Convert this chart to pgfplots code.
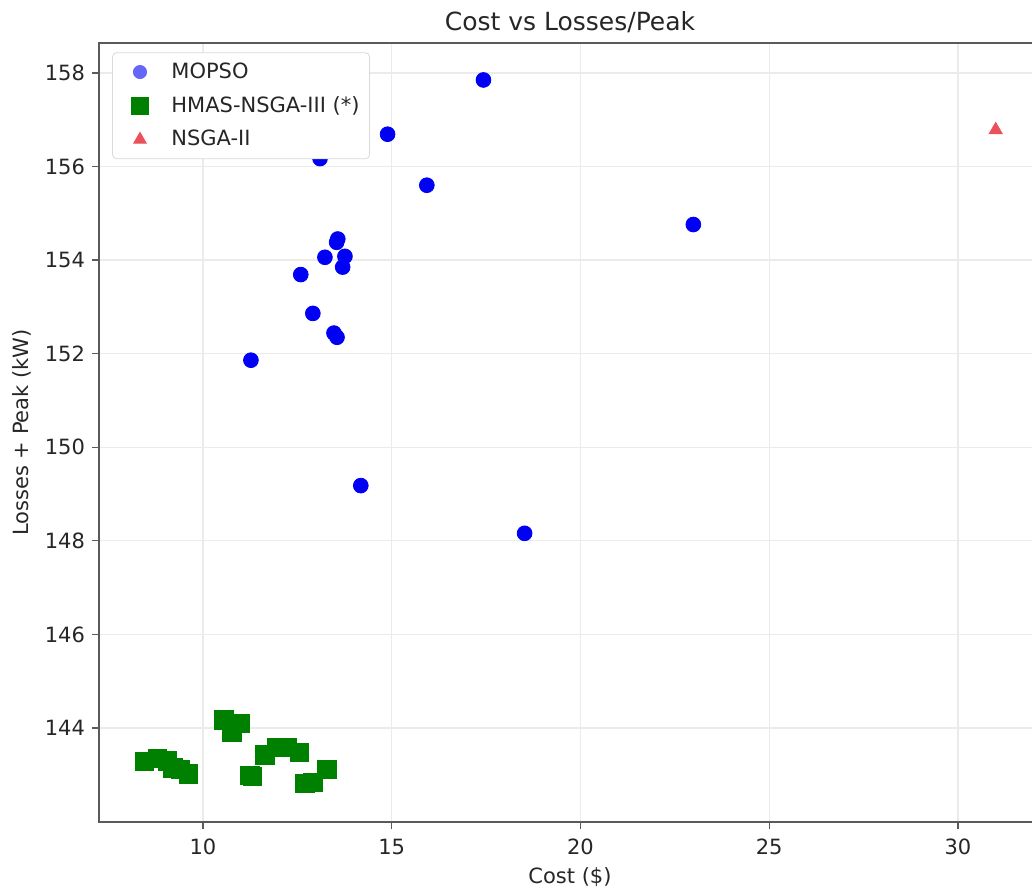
\documentclass[border=0pt]{standalone}
\usepackage{pgfplots}
\pgfplotsset{compat=1.18}
\usepackage{fontspec}
\setmainfont{DejaVu Sans}
\definecolor{mblue}{RGB}{0,0,245}
\definecolor{mgreen}{RGB}{0,128,0}
\definecolor{nred}{RGB}{236,80,90}
\definecolor{spine}{RGB}{90,90,90}
\begin{document}
\begin{tikzpicture}
\begin{axis}[name=ax, scale only axis, width=471pt, height=389.5pt,
  xmin=7.245, xmax=32.20, ymin=141.99, ymax=158.64,
  xtick={10,15,20,25,30}, ytick={144,146,148,150,152,154,156,158},
  grid=major, grid style={black!8, line width=0.6pt},
  axis line style={spine, line width=0.9pt},
  tick style={spine, line width=0.6pt}, tick align=outside, major tick length=3.5pt,
  tick pos=left,
  ticklabel style={font=\fontsize{10.5}{12}\selectfont, text=black!85},
  xticklabel style={yshift=-1.5pt},
  /pgf/number format/assume math mode=true,
  title={Cost vs Losses/Peak},
  title style={font=\fontsize{12.5}{14}\selectfont, text=black!85, at={(0.5,1)}, anchor=south, yshift=-4.5pt},
  xlabel={Cost (\$)}, ylabel={Losses + Peak (kW)},
  label style={font=\fontsize{10.5}{12}\selectfont, text=black!85},
  xlabel style={yshift=0.5pt},
  legend style={at={(0.014,0.988)}, anchor=north west, draw=black!15, rounded corners=2pt,
    font=\fontsize{10.5}{12}\selectfont, text=black!85, inner sep=3pt,
    row sep=3.5pt, legend cell align=left},
  legend image code/.code={\path (0pt,0pt) (24pt,0pt); \draw[#1] plot coordinates {(10.5pt,0pt)};},
]
\addlegendimage{only marks, mark=*, mark size=3.3pt, color=mblue!60}
\addlegendentry{MOPSO}
\addlegendimage{only marks, mark=square*, mark size=4.2pt, color=mgreen}
\addlegendentry{HMAS-NSGA-III (*)\hspace{4pt}}
\addlegendimage{only marks, mark=triangle*, mark size=3.6pt, color=nred}
\addlegendentry{NSGA-II}

\addplot[forget plot, only marks, mark=*, mark size=3.7pt, color=mblue] coordinates {
(17.43,157.85) (14.89,156.69) (13.10,156.17) (15.93,155.60) (22.99,154.76)
(13.57,154.45) (13.54,154.38) (13.23,154.06) (13.76,154.08) (13.70,153.85)
(12.59,153.69) (12.91,152.86) (13.47,152.44) (13.55,152.35) (11.27,151.86)
(14.18,149.18) (18.52,148.16)
};
\addplot[forget plot, only marks, mark=square*, mark size=4.6pt, color=mgreen] coordinates {
(8.45,143.29) (8.80,143.35) (9.05,143.30) (9.20,143.15) (9.40,143.12) (9.62,143.02)
(10.55,144.17) (10.98,144.10) (10.77,143.90)
(11.24,142.99) (11.31,142.97) (11.64,143.42) (11.96,143.58) (12.22,143.58) (12.56,143.48)
(12.70,142.82) (12.91,142.84) (13.28,143.12)
};
\addplot[forget plot, only marks, mark=triangle*, mark size=3.8pt, color=nred] coordinates {
(31.0,156.78)
};
\end{axis}
\pgfresetboundingbox
\path[use as bounding box] ([xshift=-49.5pt,yshift=-33pt]ax.south west) rectangle ([xshift=-4.5pt,yshift=21.5pt]ax.north east);
\end{tikzpicture}
\end{document}
